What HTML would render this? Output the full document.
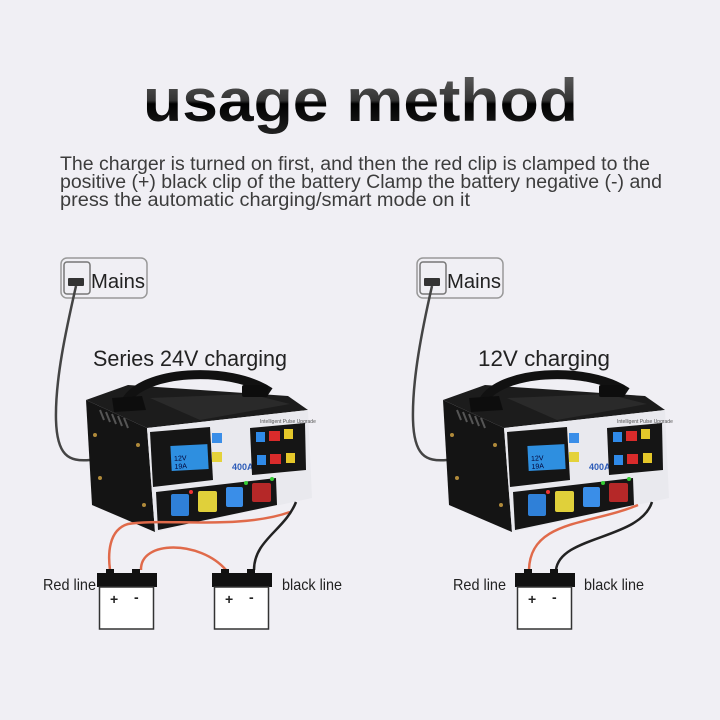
<!DOCTYPE html>
<html><head><meta charset="utf-8"><style>
html,body{margin:0;padding:0;background:#f0eff4;}
svg{display:block;}
text{font-family:"Liberation Sans",sans-serif;}
</style></head><body>
<svg width="720" height="720" viewBox="0 0 720 720" xmlns="http://www.w3.org/2000/svg">
<defs>
<linearGradient id="tg" x1="0" y1="0" x2="0" y2="1">
<stop offset="0" stop-color="#666"/><stop offset="0.5" stop-color="#333"/><stop offset="0.55" stop-color="#000"/><stop offset="1" stop-color="#222"/>
</linearGradient>
<g id="charger">
<polygon points="86,400 147,428 155,532 92,505" fill="#141414"/>
<polygon points="86,400 128,385 288,396 308,410 147,428" fill="#1c1c1c"/>
<polygon points="150,398 250,394 290,404 200,420" fill="#2a2a2a"/>
<g stroke="#555" stroke-width="2">
<line x1="100" y1="410" x2="104" y2="420"/><line x1="106" y1="412" x2="110" y2="422"/><line x1="112" y1="414" x2="116" y2="424"/><line x1="118" y1="416" x2="122" y2="426"/><line x1="124" y1="418" x2="128" y2="428"/>
</g>
<circle cx="95" cy="435" r="2" fill="#b08a3a"/><circle cx="100" cy="478" r="2" fill="#b08a3a"/><circle cx="138" cy="445" r="2" fill="#b08a3a"/><circle cx="144" cy="505" r="2" fill="#b08a3a"/>
<path d="M125,403 C140,370 230,365 270,392" stroke="#111" stroke-width="9" fill="none"/>
<polygon points="112,398 142,396 146,410 114,412" fill="#0d0d0d"/>
<rect x="242" y="385" width="26" height="12" fill="#0d0d0d" rx="2"/>
<polygon points="147,428 308,410 312,498 155,532" fill="#e9e9ee"/>
<polygon points="150,432 210,427 213,480 153,487" fill="#151515"/>
<rect x="171" y="445" width="37" height="25" fill="#2e8fe0" transform="rotate(-3 190 457)"/>
<text x="174" y="460" font-size="7" fill="#003" transform="rotate(-3 190 457)">12V</text>
<text x="174" y="468" font-size="7" fill="#003" transform="rotate(-3 190 457)">19A</text>
<rect x="212" y="433" width="10" height="10" fill="#3a8ee8"/><rect x="212" y="452" width="10" height="10" fill="#e4d23a"/>
<text x="232" y="470" font-size="9" font-weight="bold" fill="#2c5bb8" font-family="Liberation Serif">400A</text>
<text x="260" y="423" font-size="5" fill="#555">Intelligent Pulse Upgrade</text>
<polygon points="250,428 305,423 306,470 252,475" fill="#151515"/>
<rect x="256" y="432" width="9" height="10" fill="#2f8ae8"/><rect x="269" y="431" width="11" height="10" fill="#d92b2b"/><rect x="284" y="429" width="9" height="10" fill="#e4c72a"/>
<rect x="257" y="455" width="9" height="10" fill="#2f8ae8"/><rect x="270" y="454" width="11" height="10" fill="#d92b2b"/><rect x="286" y="453" width="9" height="10" fill="#e4c72a"/>
<polygon points="156,492 276,478 277,505 158,530" fill="#151515"/>
<rect x="171" y="494" width="18" height="22" rx="2" fill="#2f80d8"/>
<rect x="198" y="491" width="19" height="21" rx="2" fill="#e0d03a"/>
<rect x="226" y="487" width="17" height="20" rx="2" fill="#3a8ee8"/>
<rect x="252" y="483" width="19" height="19" rx="2" fill="#b52828"/>
<circle cx="191" cy="492" r="2" fill="#e33"/><circle cx="246" cy="483" r="2" fill="#3c3"/><circle cx="272" cy="479" r="2" fill="#3c3"/>
</g>
<g id="battery">
<rect x="0" y="0" width="8" height="5" fill="#111"/>
<rect x="26" y="0" width="8" height="5" fill="#111"/>
<rect x="-9" y="4" width="60" height="14" fill="#111"/>
<rect x="-6.5" y="18" width="54" height="42" fill="#fff" stroke="#333" stroke-width="1.5"/>
<text x="4" y="35" font-size="14" font-weight="bold" fill="#222">+</text>
<text x="28" y="33" font-size="14" font-weight="bold" fill="#222">-</text>
</g>
<g id="mains">
<rect x="0" y="0" width="86" height="40" rx="6" fill="none" stroke="#999" stroke-width="1.5"/>
<rect x="3" y="4" width="26" height="32" rx="3" fill="none" stroke="#777" stroke-width="1.5"/>
<rect x="7" y="20" width="16" height="8" rx="1" fill="#333"/>
<text x="30" y="30" font-size="20" fill="#222" textLength="54" lengthAdjust="spacingAndGlyphs">Mains</text>
</g>
</defs>

<text x="143" y="121" font-size="60" font-weight="bold" fill="url(#tg)" textLength="435" lengthAdjust="spacingAndGlyphs">usage method</text>
<g fill="#3c3c3c" font-size="19">
<text x="60" y="170" textLength="590" lengthAdjust="spacingAndGlyphs">The charger is turned on first, and then the red clip is clamped to the</text>
<text x="60" y="188" textLength="602" lengthAdjust="spacingAndGlyphs">positive (+) black clip of the battery Clamp the battery negative (-) and</text>
<text x="60" y="206" textLength="410" lengthAdjust="spacingAndGlyphs">press the automatic charging/smart mode on it</text>
</g>

<use href="#mains" x="61" y="258"/>
<path d="M76,286 C66,330 55,380 56,420 C57,455 68,462 90,460" stroke="#444" stroke-width="2.5" fill="none"/>
<text x="93" y="366" font-size="22" fill="#222" textLength="194" lengthAdjust="spacingAndGlyphs">Series 24V charging</text>
<use href="#charger"/>
<path d="M290,512 C240,530 160,518 128,524 C108,530 108,555 110,570" stroke="#e06a4a" stroke-width="2.5" fill="none"/>
<path d="M141,570 C140,540 200,540 226,570" stroke="#e06a4a" stroke-width="2.5" fill="none"/>
<path d="M296,502 C285,530 254,540 254,570" stroke="#222" stroke-width="2.5" fill="none"/>
<use href="#battery" x="106" y="569"/>
<use href="#battery" x="221" y="569"/>
<text x="43" y="590" font-size="16" fill="#222" textLength="53" lengthAdjust="spacingAndGlyphs">Red line</text>
<text x="282" y="590" font-size="16" fill="#222" textLength="60" lengthAdjust="spacingAndGlyphs">black line</text>

<use href="#mains" x="417" y="258"/>
<path d="M432,286 C422,330 412,380 413,420 C414,455 425,462 447,460" stroke="#444" stroke-width="2.5" fill="none"/>
<text x="478" y="366" font-size="22" fill="#222" textLength="132" lengthAdjust="spacingAndGlyphs">12V charging</text>
<use href="#charger" x="357" y="0"/>
<path d="M638,505 C590,525 530,520 529,570" stroke="#e06a4a" stroke-width="2.5" fill="none"/>
<path d="M652,502 C640,540 560,535 556,570" stroke="#222" stroke-width="2.5" fill="none"/>
<use href="#battery" x="524" y="569"/>
<text x="453" y="590" font-size="16" fill="#222" textLength="53" lengthAdjust="spacingAndGlyphs">Red line</text>
<text x="584" y="590" font-size="16" fill="#222" textLength="60" lengthAdjust="spacingAndGlyphs">black line</text>
</svg>
</body></html>
